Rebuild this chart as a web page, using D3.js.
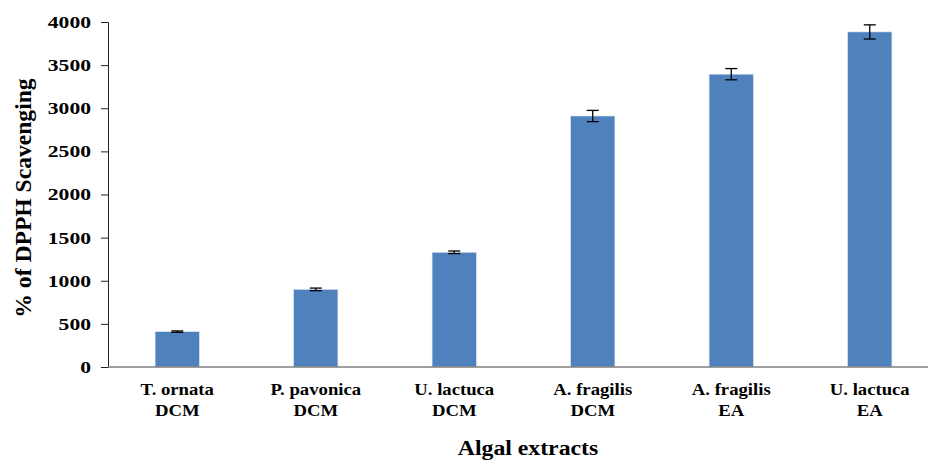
<!DOCTYPE html>
<html>
<head>
<meta charset="utf-8">
<script src="https://cdn.jsdelivr.net/npm/d3@7"></script>
<style>
  body { margin: 0; background: #fff; overflow: hidden; }
</style>
</head>
<body>
<script>
// Values
const categories = [
  ["T. ornata", "DCM"],
  ["P. pavonica", "DCM"],
  ["U. lactuca", "DCM"],
  ["A. fragilis", "DCM"],
  ["A. fragilis", "EA"],
  ["U. lactuca", "EA"]
];
const values = [410, 900, 1330, 2910, 3395, 3885];
const errors = [8, 15, 15, 65, 65, 82];
const yTicks = [0, 500, 1000, 1500, 2000, 2500, 3000, 3500, 4000];

const width = 928;
const height = 461;
const marginLeft = 108;
const marginTop = 22;
const plotBottom = 367;
const plotRight = 939;  // the last band runs past the page edge
const serif = '"Liberation Serif", "Times New Roman", "DejaVu Serif", serif';

const svg = d3.select("body").append("svg")
    .attr("width", width)
    .attr("height", height)
    .style("display", "block");

const x = d3.scaleBand()
    .domain(d3.range(categories.length))
    .range([marginLeft, plotRight])
    .paddingInner(0.68)
    .paddingOuter(0.34);

const y = d3.scaleLinear()
    .domain([0, 4000])
    .range([plotBottom, marginTop]);

// Bars
svg.append("g")
  .selectAll("rect")
  .data(values)
  .join("rect")
    .attr("x", (d, i) => x(i))
    .attr("y", d => y(d))
    .attr("width", x.bandwidth())
    .attr("height", d => y(0) - y(d))
    .attr("fill", "#4f81bd")
    .attr("stroke", "#dce6f2")
    .attr("stroke-width", 0.6);

// Error bars
const err = svg.append("g")
    .attr("stroke", "#000")
    .attr("stroke-width", 1.3);

values.forEach((v, i) => {
  const cx = x(i) + x.bandwidth() / 2;
  const top = y(v + errors[i]);
  const bot = y(v - errors[i]);
  err.append("line").attr("x1", cx).attr("x2", cx).attr("y1", top).attr("y2", bot);
  err.append("line").attr("x1", cx - 6).attr("x2", cx + 6).attr("y1", top).attr("y2", top);
  err.append("line").attr("x1", cx - 6).attr("x2", cx + 6).attr("y1", bot).attr("y2", bot);
});

// Y axis (labels are drawn wide, as in the stretched original)
const tickStretch = 1.35;
const yAxis = svg.append("g")
    .attr("transform", `translate(${marginLeft},0)`)
    .call(d3.axisLeft(y).tickValues(yTicks).tickSize(7).tickFormat(d3.format("d")));
yAxis.select(".domain").attr("stroke", "#222");
yAxis.selectAll(".tick line").attr("stroke", "#222");
yAxis.selectAll(".tick text")
    .attr("x", -17 / tickStretch)
    .attr("dy", "0.34em")
    .attr("transform", `scale(${tickStretch},1)`)
    .attr("font-size", 16)
    .style("font-family", serif)
    .style("font-weight", "bold")
    .attr("fill", "#000");

// X axis line
svg.append("line")
    .attr("x1", marginLeft)
    .attr("x2", width)
    .attr("y1", plotBottom)
    .attr("y2", plotBottom)
    .attr("stroke", "#808080")
    .attr("stroke-width", 1.5);

// Category labels (two lines)
const labels = svg.append("g")
  .selectAll("text")
  .data(categories)
  .join("text")
    .attr("text-anchor", "middle")
    .attr("font-size", 17)
    .style("font-family", serif)
    .style("font-weight", "bold")
    .attr("transform", (d, i) => `translate(${x(i) + x.bandwidth() / 2},395) scale(1.1,1)`);

labels.append("tspan").attr("x", 0).text(d => d[0]);
labels.append("tspan")
    .attr("x", 0)
    .attr("dy", 21)
    .text(d => d[1]);

// Axis titles
svg.append("text")
    .attr("transform", "translate(528,455) scale(1.08,1)")
    .attr("text-anchor", "middle")
    .attr("font-size", 22)
    .style("font-family", serif)
    .style("font-weight", "bold")
    .text("Algal extracts");

svg.append("text")
    .attr("transform", "translate(31,198) rotate(-90) scale(1.05,1)")
    .attr("text-anchor", "middle")
    .attr("font-size", 22.5)
    .style("font-family", serif)
    .style("font-weight", "bold")
    .text("% of DPPH Scavenging");
</script>
</body>
</html>
